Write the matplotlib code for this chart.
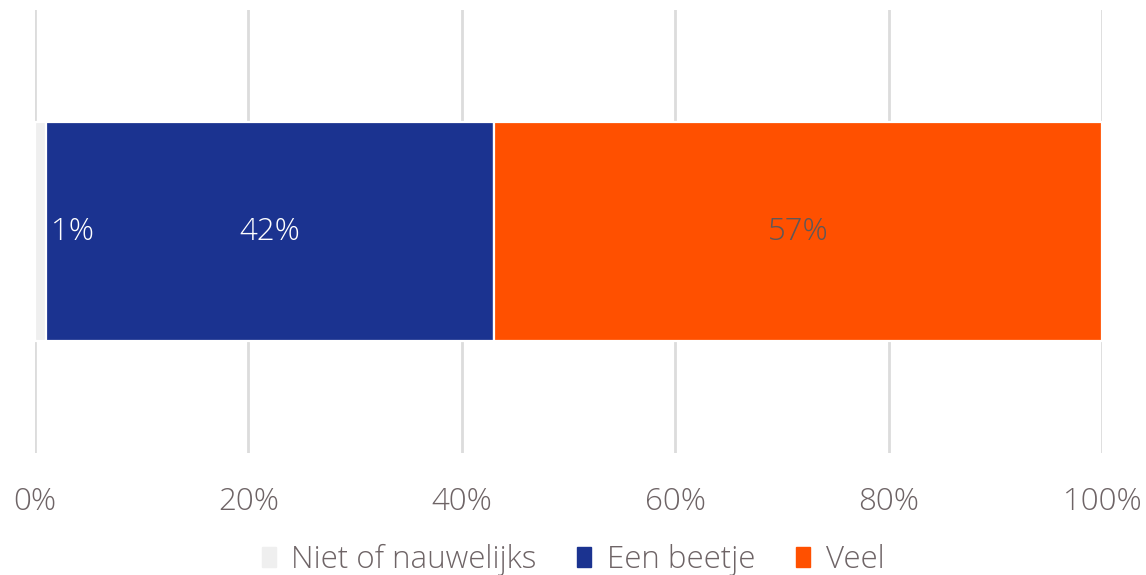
import matplotlib.pyplot as plt
import matplotlib.patches as mpatches

categories = ["Niet of nauwelijks", "Een beetje", "Veel"]
values = [1, 42, 57]
colors = ["#efefef", "#1b3390", "#ff5000"]
label_colors = ["#ffffff", "#ffffff", "#5e5758"]
ticks = [0, 20, 40, 60, 80, 100]
tick_labels = ["0%", "20%", "40%", "60%", "80%", "100%"]

text_color = "#6e6466"
fs = 22.5
plt.rcParams['font.family'] = ['Open Sans', 'DejaVu Sans']

fig = plt.figure(figsize=(11.46, 5.75), dpi=100)
ax = fig.add_axes([35 / 1146, 1 - 453 / 575, (1102 - 35) / 1146, 443 / 575])

left = 0
for i, (cat, v, c) in enumerate(zip(categories, values, colors)):
    ax.barh(0, v, left=left, height=0.495, color=c, edgecolor="white",
            linewidth=1.6, zorder=3, label=cat)
    if i == 0:
        ax.text(left + v + 0.5, 0, f"{v}%", ha="left", va="center",
                fontsize=fs, color=label_colors[i], fontweight="light", zorder=4)
    else:
        ax.text(left + v / 2, 0, f"{v}%", ha="center", va="center",
                fontsize=fs, color=label_colors[i], fontweight="light", zorder=4)
    left += v

ax.set_xlim(0, 100)
ax.set_ylim(-0.5, 0.5)
ax.set_yticks([])
ax.set_xticks(ticks)
ax.set_xticklabels(tick_labels, fontsize=fs, color=text_color, fontweight="light")
ax.tick_params(axis="x", length=0, pad=24)
ax.xaxis.grid(True, color="#dcdcdc", linewidth=2, zorder=0)
ax.set_axisbelow(True)
for s in ax.spines.values():
    s.set_visible(False)
ax.patch.set_alpha(0)

handles = [mpatches.Patch(color=c, label=cat) for cat, c in zip(categories, colors)]
fig.legend(handles=handles, loc="center", bbox_to_anchor=(0.5, 1 - 560 / 575),
           ncol=3, frameon=False, handlelength=0.45, handleheight=0.6,
           handletextpad=0.5, columnspacing=1.3, labelcolor=text_color,
           prop={"weight": "light", "size": fs})

fig.savefig("out.png", dpi=100)
